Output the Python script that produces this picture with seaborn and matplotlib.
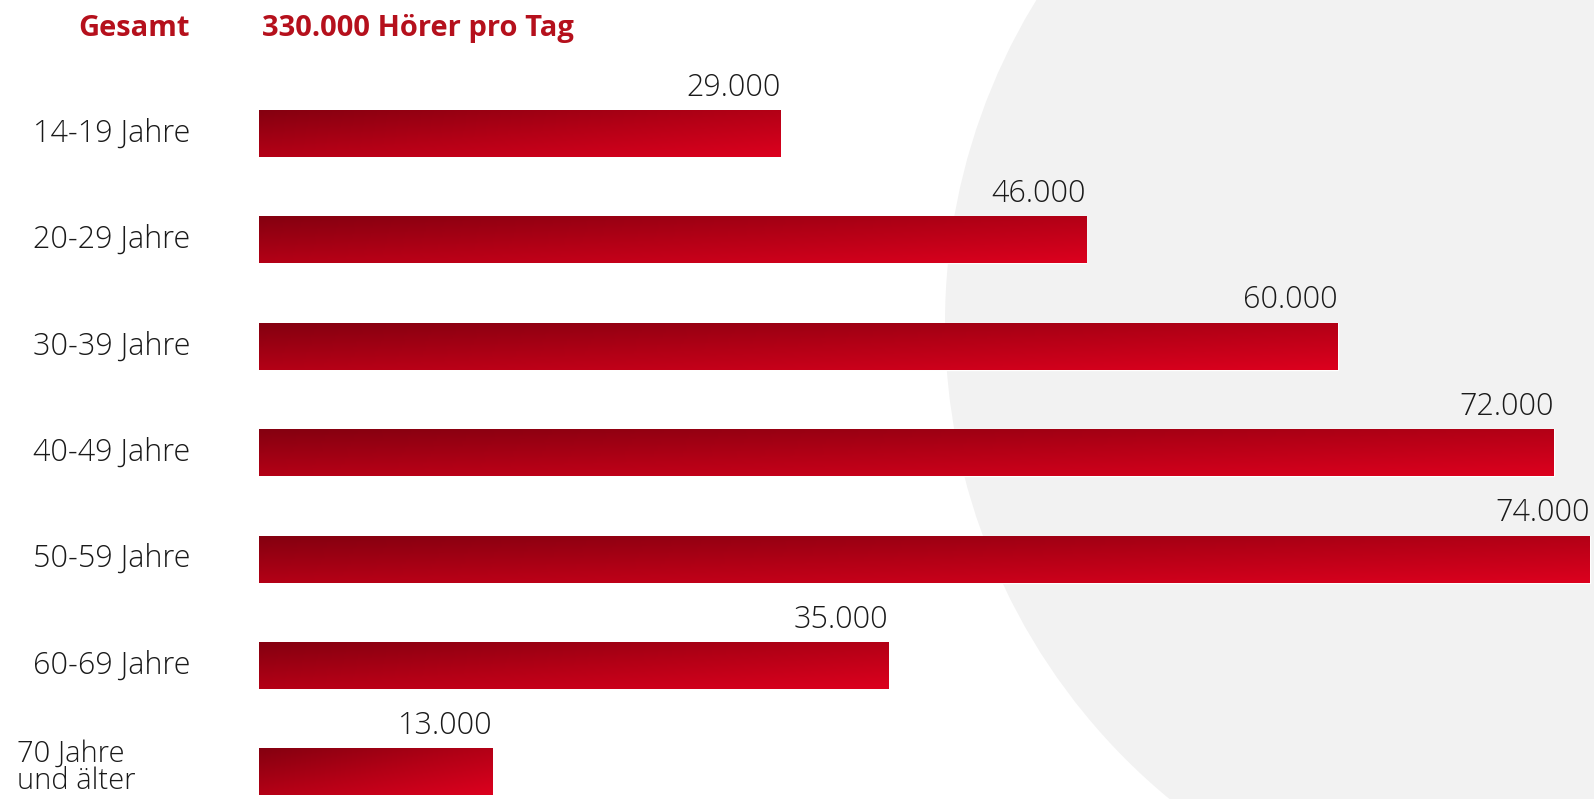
import numpy as np
import matplotlib
matplotlib.use("Agg")
import matplotlib.pyplot as plt
import seaborn as sns
from matplotlib.colors import LinearSegmentedColormap
from matplotlib.patches import Circle

# ---- data ----
categories = ["14-19 Jahre", "20-29 Jahre", "30-39 Jahre", "40-49 Jahre",
              "50-59 Jahre", "60-69 Jahre", "70 Jahre\nund älter"]
listeners = [29000, 46000, 60000, 72000, 74000, 35000, 13000]
value_labels = ["29.000", "46.000", "60.000", "72.000", "74.000", "35.000", "13.000"]
header_left = "Gesamt"
header_right = "330.000 Hörer pro Tag"

sns.set_theme(style="white")
plt.rcParams['font.family'] = ['Open Sans', 'DejaVu Sans']

W, H, DPI = 1594, 799, 100
fig = plt.figure(figsize=(W / DPI, H / DPI), dpi=DPI)
fig.patch.set_facecolor("white")

# background grey circle
circ = Circle((1562 / DPI, (H - 323) / DPI), 617 / DPI, transform=fig.dpi_scale_trans,
              facecolor="#f2f2f2", edgecolor="none", zorder=-5)
fig.patches.append(circ)

ax = fig.add_axes([259 / W, 0, (W - 259) / W, 1])
ax.set_zorder(2)
ax.set_facecolor("none")

bar_h = 0.44
sns.barplot(x=listeners, y=categories, orient="h", ax=ax, width=bar_h,
            color="#b00014", saturation=1, zorder=2)

spacing = 106.4
top = -133.5 / spacing

for s in ax.spines.values():
    s.set_visible(False)
ax.set_xticks([])
ax.set_yticks([])
ax.set_xlabel("")
ax.set_ylabel("")

cmap = LinearSegmentedColormap.from_list("grad", ["#850010", "#b30016", "#dc001e"])
u = np.linspace(0, 1, 256)[None, :]
v = np.linspace(0, 1, 32)[:, None]
grad = (u + v) / 2.0

for i, p in enumerate(ax.patches):
    x0 = p.get_x()
    w = p.get_width()
    y0 = p.get_y()
    h = p.get_height()
    p.set_facecolor("none")
    im = ax.imshow(grad, cmap=cmap, vmin=0, vmax=1, aspect="auto", origin="upper",
                   extent=(x0, x0 + w, y0 + h, y0), zorder=3, interpolation="bilinear")
    im.set_clip_path(p)

ax.set_xlim(0, 74250)
ax.set_ylim(top + H / spacing, top)

txt_color = "#1a1a1a"
fs = 22
# value labels
for i, (val, lab) in enumerate(zip(listeners, value_labels)):
    ax.annotate(lab, xy=(val, i - bar_h / 2), xytext=(0, 10.5), textcoords="offset points",
                ha="right", va="baseline", fontsize=fs, color=txt_color,
                fontweight="light", zorder=4)

# category labels
trans = matplotlib.transforms.blended_transform_factory(fig.dpi_scale_trans, ax.transData)
for i, cat in enumerate(categories):
    if "\n" in cat:
        ax.text(17 / DPI, i - 0.04, cat, transform=trans, ha="left", va="center",
                fontsize=fs - 1, color=txt_color, fontweight="light", linespacing=0.88)
    else:
        ax.text(112 / DPI, i, cat, transform=trans, ha="center", va="center",
                fontsize=fs, color=txt_color, fontweight="light")

# header
fig.text(134 / W, 1 - 36 / H, header_left, ha="center", va="baseline",
         fontsize=21, fontweight="bold", color="#b5101c")
fig.text(262 / W, 1 - 36 / H, header_right, ha="left", va="baseline",
         fontsize=21, fontweight="bold", color="#b5101c")

fig.savefig("out.png", dpi=DPI, facecolor=fig.get_facecolor())
